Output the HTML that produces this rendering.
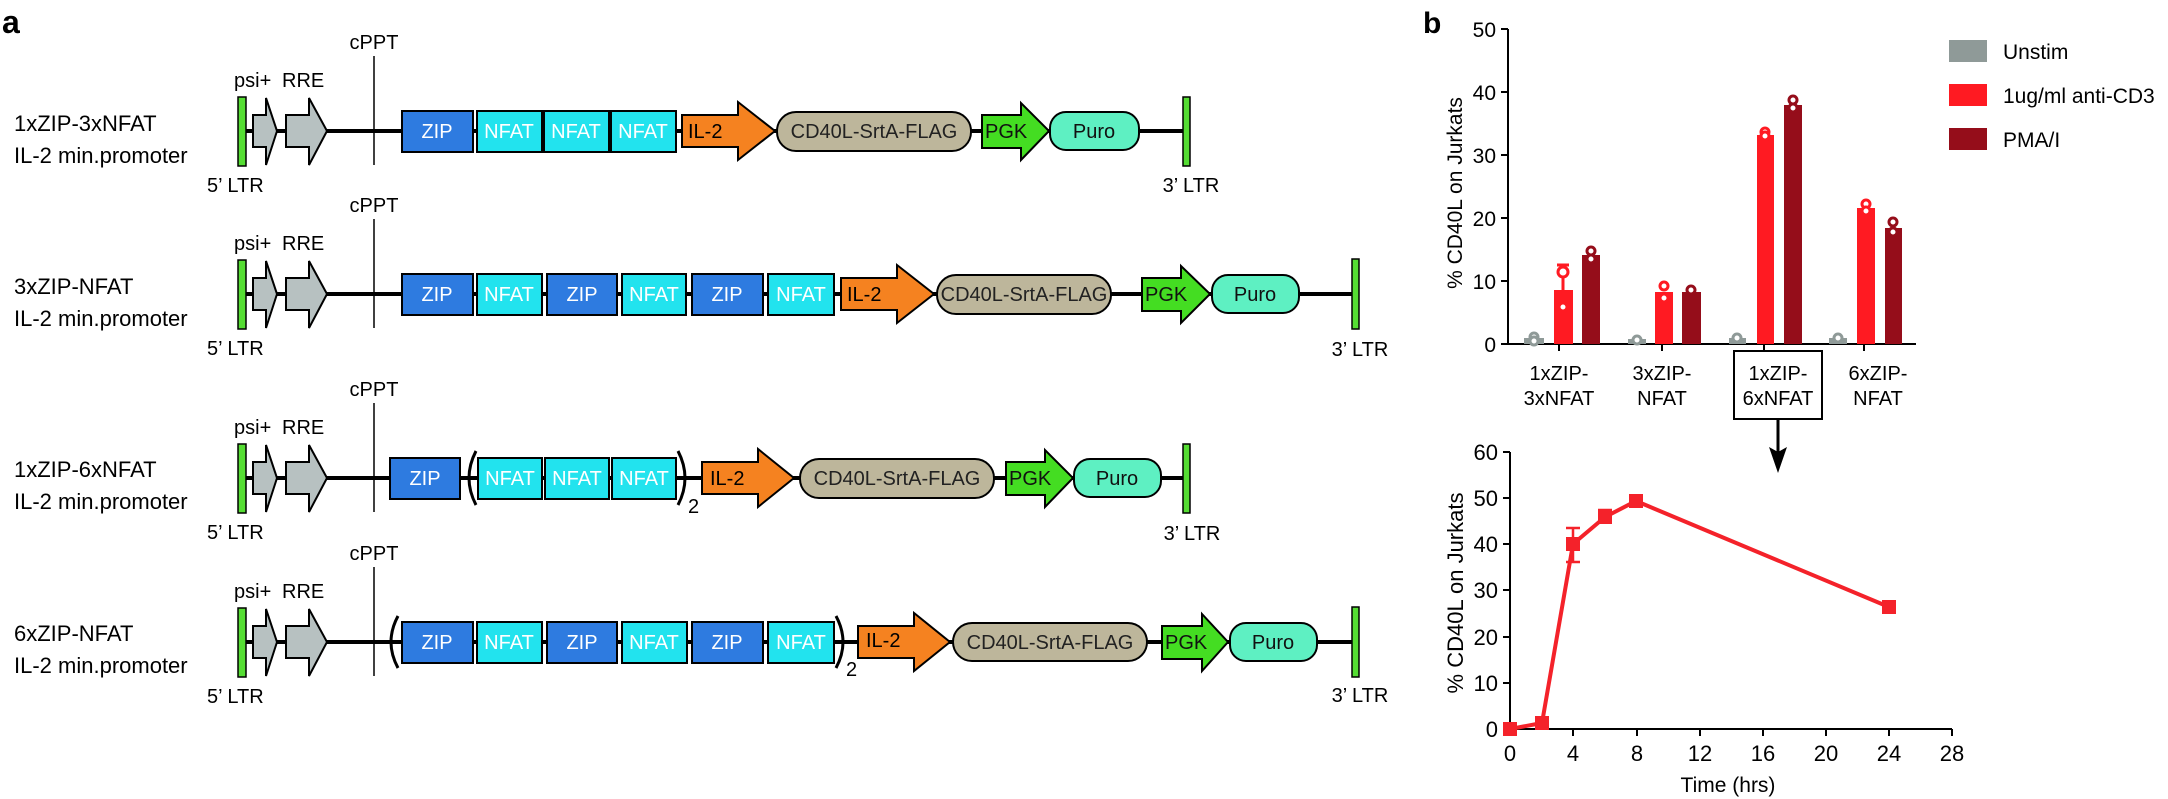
<!DOCTYPE html>
<html><head><meta charset="utf-8"><style>
html,body{margin:0;padding:0;background:#fff;}
svg{display:block;font-family:"Liberation Sans",Arial,sans-serif;}
</style></head><body>
<svg width="2168" height="799" viewBox="0 0 2168 799" xmlns="http://www.w3.org/2000/svg">
<defs>
<g id="common">
  <line x1="374" y1="-75" x2="374" y2="34" stroke="#000" stroke-width="1.5"/>
  <text x="374" y="-82" font-size="20" text-anchor="middle">cPPT</text>
  <text x="234" y="-44" font-size="20">psi+</text>
  <text x="282" y="-44" font-size="20">RRE</text>
  <text x="207" y="61" font-size="20">5’ LTR</text>
  <polygon points="253,-16 266,-16 266,-33 277,0 266,34 266,16 253,16" fill="#b7c1c1" stroke="#000" stroke-width="2"/>
  <polygon points="286,-16 309,-16 309,-33 327,0 309,34 309,16 286,16" fill="#b7c1c1" stroke="#000" stroke-width="2"/>
  <rect x="238" y="-34" width="8" height="69" fill="#55dd33" stroke="#000" stroke-width="1.5"/>
</g>
</defs>
<text x="2" y="33" font-size="32" font-weight="bold">a</text>
<text x="1423" y="33" font-size="30" font-weight="bold">b</text>

<!-- Row 1 -->
<g transform="translate(0,131)" font-size="20">
  <line x1="246" y1="0" x2="1186" y2="0" stroke="#000" stroke-width="4"/>
  <use href="#common"/>
  <text x="14" y="0" font-size="22">1xZIP-3xNFAT</text>
  <text x="14" y="32" font-size="22">IL-2 min.promoter</text>
  <rect x="402" y="-20" width="71" height="41" fill="#2e7be0" stroke="#000" stroke-width="2"/><text x="437" y="7" fill="#fff" text-anchor="middle">ZIP</text>
  <rect x="477" y="-20" width="65" height="41" fill="#22e3ee" stroke="#000" stroke-width="2"/><text x="509" y="7" fill="#fff" text-anchor="middle">NFAT</text>
  <rect x="544" y="-20" width="65" height="41" fill="#22e3ee" stroke="#000" stroke-width="2"/><text x="576" y="7" fill="#fff" text-anchor="middle">NFAT</text>
  <rect x="611" y="-20" width="65" height="41" fill="#22e3ee" stroke="#000" stroke-width="2"/><text x="643" y="7" fill="#fff" text-anchor="middle">NFAT</text>
  <polygon points="682,-16 738,-16 738,-29 775,0 738,29 738,16 682,16" fill="#f58220" stroke="#000" stroke-width="2"/><text x="688" y="7">IL-2</text>
  <rect x="777" y="-19" width="194" height="39" rx="19" fill="#bdb69b" stroke="#000" stroke-width="2"/><text x="874" y="7" text-anchor="middle" fill="#222">CD40L-SrtA-FLAG</text>
  <polygon points="982,-16 1021,-16 1021,-28 1049,0 1021,29 1021,17 982,17" fill="#44dd22" stroke="#000" stroke-width="2"/><text x="985" y="7" fill="#111">PGK</text>
  <rect x="1050" y="-19" width="89" height="38" rx="16" fill="#5ef0c2" stroke="#000" stroke-width="2"/><text x="1094" y="7" text-anchor="middle" fill="#111">Puro</text>
  <rect x="1183" y="-34" width="7" height="69" fill="#55dd33" stroke="#000" stroke-width="1.5"/>
  <text x="1191" y="61" text-anchor="middle">3’ LTR</text>
</g>

<!-- Row 2 -->
<g transform="translate(0,294)" font-size="20">
  <line x1="246" y1="0" x2="1355" y2="0" stroke="#000" stroke-width="4"/>
  <use href="#common"/>
  <text x="14" y="0" font-size="22">3xZIP-NFAT</text>
  <text x="14" y="32" font-size="22">IL-2 min.promoter</text>
  <rect x="402" y="-20" width="71" height="41" fill="#2e7be0" stroke="#000" stroke-width="2"/><text x="437" y="7" fill="#fff" text-anchor="middle">ZIP</text>
  <rect x="477" y="-20" width="65" height="41" fill="#22e3ee" stroke="#000" stroke-width="2"/><text x="509" y="7" fill="#fff" text-anchor="middle">NFAT</text>
  <rect x="547" y="-20" width="70" height="41" fill="#2e7be0" stroke="#000" stroke-width="2"/><text x="582" y="7" fill="#fff" text-anchor="middle">ZIP</text>
  <rect x="622" y="-20" width="64" height="41" fill="#22e3ee" stroke="#000" stroke-width="2"/><text x="654" y="7" fill="#fff" text-anchor="middle">NFAT</text>
  <rect x="692" y="-20" width="71" height="41" fill="#2e7be0" stroke="#000" stroke-width="2"/><text x="727" y="7" fill="#fff" text-anchor="middle">ZIP</text>
  <rect x="768" y="-20" width="66" height="41" fill="#22e3ee" stroke="#000" stroke-width="2"/><text x="801" y="7" fill="#fff" text-anchor="middle">NFAT</text>
  <polygon points="841,-16 897,-16 897,-29 934,0 897,29 897,16 841,16" fill="#f58220" stroke="#000" stroke-width="2"/><text x="847" y="7">IL-2</text>
  <rect x="937" y="-19" width="174" height="39" rx="19" fill="#bdb69b" stroke="#000" stroke-width="2"/><text x="1024" y="7" text-anchor="middle" fill="#222">CD40L-SrtA-FLAG</text>
  <polygon points="1142,-16 1181,-16 1181,-28 1210,0 1181,29 1181,17 1142,17" fill="#44dd22" stroke="#000" stroke-width="2"/><text x="1145" y="7" fill="#111">PGK</text>
  <rect x="1212" y="-19" width="87" height="38" rx="16" fill="#5ef0c2" stroke="#000" stroke-width="2"/><text x="1255" y="7" text-anchor="middle" fill="#111">Puro</text>
  <rect x="1352" y="-35" width="7" height="70" fill="#55dd33" stroke="#000" stroke-width="1.5"/>
  <text x="1360" y="62" text-anchor="middle">3’ LTR</text>
</g>

<!-- Row 3 -->
<g transform="translate(0,478)" font-size="20">
  <line x1="246" y1="0" x2="1186" y2="0" stroke="#000" stroke-width="4"/>
  <use href="#common"/>
  <text x="14" y="-1" font-size="22">1xZIP-6xNFAT</text>
  <text x="14" y="31" font-size="22">IL-2 min.promoter</text>
  <rect x="390" y="-20" width="70" height="41" fill="#2e7be0" stroke="#000" stroke-width="2"/><text x="425" y="7" fill="#fff" text-anchor="middle">ZIP</text>
  <path d="M476,-27 Q462,0 476,27" fill="none" stroke="#000" stroke-width="3"/>
  <rect x="478" y="-20" width="64" height="41" fill="#22e3ee" stroke="#000" stroke-width="2"/><text x="510" y="7" fill="#fff" text-anchor="middle">NFAT</text>
  <rect x="545" y="-20" width="64" height="41" fill="#22e3ee" stroke="#000" stroke-width="2"/><text x="577" y="7" fill="#fff" text-anchor="middle">NFAT</text>
  <rect x="612" y="-20" width="64" height="41" fill="#22e3ee" stroke="#000" stroke-width="2"/><text x="644" y="7" fill="#fff" text-anchor="middle">NFAT</text>
  <path d="M678,-27 Q692,0 678,27" fill="none" stroke="#000" stroke-width="3"/>
  <text x="688" y="35" font-size="20">2</text>
  <polygon points="702,-16 758,-16 758,-29 794,0 758,29 758,16 702,16" fill="#f58220" stroke="#000" stroke-width="2"/><text x="710" y="7">IL-2</text>
  <rect x="800" y="-19" width="194" height="39" rx="19" fill="#bdb69b" stroke="#000" stroke-width="2"/><text x="897" y="7" text-anchor="middle" fill="#222">CD40L-SrtA-FLAG</text>
  <polygon points="1006,-16 1045,-16 1045,-28 1073,0 1045,29 1045,17 1006,17" fill="#44dd22" stroke="#000" stroke-width="2"/><text x="1009" y="7" fill="#111">PGK</text>
  <rect x="1074" y="-19" width="87" height="38" rx="16" fill="#5ef0c2" stroke="#000" stroke-width="2"/><text x="1117" y="7" text-anchor="middle" fill="#111">Puro</text>
  <rect x="1183" y="-34" width="7" height="69" fill="#55dd33" stroke="#000" stroke-width="1.5"/>
  <text x="1192" y="62" text-anchor="middle">3’ LTR</text>
</g>

<!-- Row 4 -->
<g transform="translate(0,642)" font-size="20">
  <line x1="246" y1="0" x2="1355" y2="0" stroke="#000" stroke-width="4"/>
  <use href="#common"/>
  <text x="14" y="-1" font-size="22">6xZIP-NFAT</text>
  <text x="14" y="31" font-size="22">IL-2 min.promoter</text>
  <path d="M398,-26 Q384,0 398,26" fill="none" stroke="#000" stroke-width="3"/>
  <rect x="402" y="-20" width="71" height="41" fill="#2e7be0" stroke="#000" stroke-width="2"/><text x="437" y="7" fill="#fff" text-anchor="middle">ZIP</text>
  <rect x="477" y="-20" width="65" height="41" fill="#22e3ee" stroke="#000" stroke-width="2"/><text x="509" y="7" fill="#fff" text-anchor="middle">NFAT</text>
  <rect x="547" y="-20" width="70" height="41" fill="#2e7be0" stroke="#000" stroke-width="2"/><text x="582" y="7" fill="#fff" text-anchor="middle">ZIP</text>
  <rect x="622" y="-20" width="65" height="41" fill="#22e3ee" stroke="#000" stroke-width="2"/><text x="654" y="7" fill="#fff" text-anchor="middle">NFAT</text>
  <rect x="692" y="-20" width="71" height="41" fill="#2e7be0" stroke="#000" stroke-width="2"/><text x="727" y="7" fill="#fff" text-anchor="middle">ZIP</text>
  <rect x="768" y="-20" width="66" height="41" fill="#22e3ee" stroke="#000" stroke-width="2"/><text x="801" y="7" fill="#fff" text-anchor="middle">NFAT</text>
  <path d="M836,-26 Q850,0 836,26" fill="none" stroke="#000" stroke-width="3"/>
  <text x="846" y="34" font-size="20">2</text>
  <polygon points="858,-16 914,-16 914,-29 950,0 914,29 914,16 858,16" fill="#f58220" stroke="#000" stroke-width="2"/><text x="866" y="5">IL-2</text>
  <rect x="953" y="-19" width="194" height="38" rx="19" fill="#bdb69b" stroke="#000" stroke-width="2"/><text x="1050" y="7" text-anchor="middle" fill="#222">CD40L-SrtA-FLAG</text>
  <polygon points="1162,-16 1202,-16 1202,-28 1228,0 1202,29 1202,17 1162,17" fill="#44dd22" stroke="#000" stroke-width="2"/><text x="1165" y="7" fill="#111">PGK</text>
  <rect x="1230" y="-19" width="87" height="38" rx="16" fill="#5ef0c2" stroke="#000" stroke-width="2"/><text x="1273" y="7" text-anchor="middle" fill="#111">Puro</text>
  <rect x="1352" y="-35" width="7" height="70" fill="#55dd33" stroke="#000" stroke-width="1.5"/>
  <text x="1360" y="60" text-anchor="middle">3’ LTR</text>
</g>

<!-- Bar chart -->
<g font-size="21">
  <line x1="1508" y1="29" x2="1508" y2="345" stroke="#000" stroke-width="2"/>
  <line x1="1507" y1="344" x2="1916" y2="344" stroke="#000" stroke-width="2"/>
  <g stroke="#000" stroke-width="2">
    <line x1="1501" y1="29" x2="1508" y2="29"/><line x1="1501" y1="92" x2="1508" y2="92"/>
    <line x1="1501" y1="155" x2="1508" y2="155"/><line x1="1501" y1="218" x2="1508" y2="218"/>
    <line x1="1501" y1="281" x2="1508" y2="281"/><line x1="1501" y1="344" x2="1508" y2="344"/>
    <line x1="1559" y1="344" x2="1559" y2="351"/><line x1="1662" y1="344" x2="1662" y2="351"/>
    <line x1="1764" y1="344" x2="1764" y2="351"/><line x1="1864" y1="344" x2="1864" y2="351"/>
  </g>
  <g text-anchor="end">
    <text x="1496" y="37">50</text><text x="1496" y="100">40</text><text x="1496" y="163">30</text>
    <text x="1496" y="226">20</text><text x="1496" y="289">10</text><text x="1496" y="352">0</text>
  </g>
  <text transform="translate(1462,193) rotate(-90)" text-anchor="middle" font-size="21">% CD40L on Jurkats</text>
  <!-- bars -->
  <rect x="1524" y="338" width="20" height="6" fill="#8f9a98"/>
  <rect x="1554" y="290" width="19" height="54" fill="#ff1a22"/>
  <rect x="1582" y="255" width="18" height="89" fill="#950d1a"/>
  <rect x="1628" y="339" width="18" height="5" fill="#8f9a98"/>
  <rect x="1655" y="292" width="18" height="52" fill="#ff1a22"/>
  <rect x="1682" y="292" width="19" height="52" fill="#950d1a"/>
  <rect x="1729" y="338" width="17" height="6" fill="#8f9a98"/>
  <rect x="1757" y="135" width="17" height="209" fill="#ff1a22"/>
  <rect x="1784" y="105" width="18" height="239" fill="#950d1a"/>
  <rect x="1829" y="338" width="18" height="6" fill="#8f9a98"/>
  <rect x="1857" y="208" width="18" height="136" fill="#ff1a22"/>
  <rect x="1885" y="228" width="17" height="116" fill="#950d1a"/>
  <!-- error bar -->
  <line x1="1563" y1="290" x2="1563" y2="265" stroke="#ff1a22" stroke-width="3"/>
  <line x1="1557" y1="265" x2="1569" y2="265" stroke="#ff1a22" stroke-width="3"/>
  <!-- points -->
  <g fill="#fff" stroke-width="3">
    <circle cx="1534" cy="337" r="4" stroke="#8f9a98"/><circle cx="1534" cy="341" r="4" stroke="#8f9a98"/>
    <circle cx="1563" cy="272" r="5" stroke="#ff1a22"/><circle cx="1563" cy="307" r="4" stroke="#ff1a22"/>
    <circle cx="1591" cy="251" r="4" stroke="#950d1a"/><circle cx="1591" cy="259" r="4" stroke="#950d1a"/>
    <circle cx="1637" cy="340" r="4" stroke="#8f9a98"/>
    <circle cx="1664" cy="286" r="4" stroke="#ff1a22"/><circle cx="1664" cy="298" r="4" stroke="#ff1a22"/>
    <circle cx="1691" cy="290" r="4" stroke="#950d1a"/>
    <circle cx="1737" cy="338" r="4" stroke="#8f9a98"/>
    <circle cx="1765" cy="132" r="4" stroke="#ff1a22"/><circle cx="1765" cy="136" r="4" stroke="#ff1a22"/>
    <circle cx="1793" cy="100" r="4" stroke="#950d1a"/><circle cx="1793" cy="108" r="4" stroke="#950d1a"/>
    <circle cx="1838" cy="338" r="4" stroke="#8f9a98"/>
    <circle cx="1866" cy="204" r="4" stroke="#ff1a22"/><circle cx="1866" cy="211" r="4" stroke="#ff1a22"/>
    <circle cx="1893" cy="222" r="4" stroke="#950d1a"/><circle cx="1893" cy="232" r="4" stroke="#950d1a"/>
  </g>
  <g text-anchor="middle" font-size="20">
    <text x="1559" y="380">1xZIP-</text><text x="1559" y="405">3xNFAT</text>
    <text x="1662" y="380">3xZIP-</text><text x="1662" y="405">NFAT</text>
    <text x="1778" y="380">1xZIP-</text><text x="1778" y="405">6xNFAT</text>
    <text x="1878" y="380">6xZIP-</text><text x="1878" y="405">NFAT</text>
  </g>
  <rect x="1734" y="351" width="88" height="68" fill="none" stroke="#000" stroke-width="2"/>
  <line x1="1778" y1="419" x2="1778" y2="452" stroke="#000" stroke-width="3"/>
  <polygon points="1769,447 1778,452 1787,447 1778,473" fill="#000"/>
  <!-- legend -->
  <rect x="1949" y="40" width="38" height="22" fill="#8f9a98"/>
  <rect x="1949" y="84" width="38" height="22" fill="#ff1a22"/>
  <rect x="1949" y="128" width="38" height="22" fill="#950d1a"/>
  <text x="2003" y="59">Unstim</text>
  <text x="2003" y="103">1ug/ml anti-CD3</text>
  <text x="2003" y="147">PMA/I</text>
</g>

<!-- Line chart -->
<g font-size="22">
  <line x1="1510" y1="452" x2="1510" y2="730" stroke="#000" stroke-width="2"/>
  <line x1="1509" y1="729" x2="1952" y2="729" stroke="#000" stroke-width="2"/>
  <g stroke="#000" stroke-width="2">
    <line x1="1503" y1="452" x2="1510" y2="452"/><line x1="1503" y1="498" x2="1510" y2="498"/>
    <line x1="1503" y1="544" x2="1510" y2="544"/><line x1="1503" y1="590" x2="1510" y2="590"/>
    <line x1="1503" y1="637" x2="1510" y2="637"/><line x1="1503" y1="683" x2="1510" y2="683"/>
    <line x1="1503" y1="729" x2="1510" y2="729"/>
    <line x1="1573" y1="729" x2="1573" y2="736"/><line x1="1637" y1="729" x2="1637" y2="736"/>
    <line x1="1700" y1="729" x2="1700" y2="736"/><line x1="1763" y1="729" x2="1763" y2="736"/>
    <line x1="1826" y1="729" x2="1826" y2="736"/><line x1="1889" y1="729" x2="1889" y2="736"/>
    <line x1="1952" y1="729" x2="1952" y2="736"/>
  </g>
  <g text-anchor="end">
    <text x="1498" y="460">60</text><text x="1498" y="506">50</text><text x="1498" y="552">40</text>
    <text x="1498" y="598">30</text><text x="1498" y="645">20</text><text x="1498" y="691">10</text>
    <text x="1498" y="737">0</text>
  </g>
  <g text-anchor="middle">
    <text x="1510" y="761">0</text><text x="1573" y="761">4</text><text x="1637" y="761">8</text>
    <text x="1700" y="761">12</text><text x="1763" y="761">16</text><text x="1826" y="761">20</text>
    <text x="1889" y="761">24</text><text x="1952" y="761">28</text>
  </g>
  <text x="1728" y="792" text-anchor="middle" font-size="21">Time (hrs)</text>
  <text transform="translate(1463,593) rotate(-90)" text-anchor="middle" font-size="22">% CD40L on Jurkats</text>
  <polyline points="1510,729 1542,723 1573,544 1605,517 1636,501 1889,607" fill="none" stroke="#f4222a" stroke-width="4"/>
  <g stroke="#f4222a" stroke-width="2.5">
    <line x1="1573" y1="528" x2="1573" y2="562"/><line x1="1566" y1="528" x2="1580" y2="528"/><line x1="1566" y1="562" x2="1580" y2="562"/>
    <line x1="1605" y1="510" x2="1605" y2="524"/><line x1="1598" y1="510" x2="1612" y2="510"/>
  </g>
  <g fill="#f4222a">
    <rect x="1503" y="722" width="14" height="14"/><rect x="1535" y="716" width="14" height="14"/>
    <rect x="1566" y="537" width="14" height="14"/><rect x="1598" y="510" width="14" height="14"/>
    <rect x="1629" y="494" width="14" height="14"/><rect x="1882" y="600" width="14" height="14"/>
  </g>
</g>
</svg>
</body></html>
